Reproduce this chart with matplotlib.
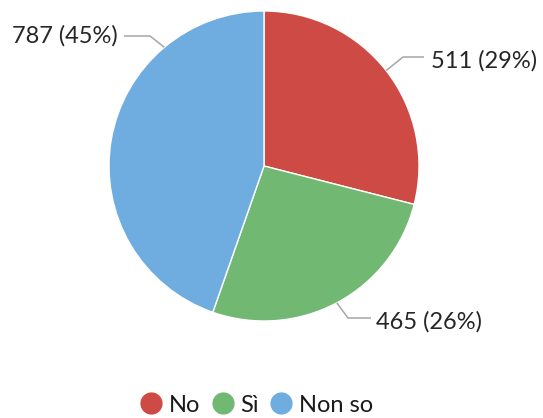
import numpy as np
import matplotlib.pyplot as plt
from matplotlib.lines import Line2D

plt.rcParams['font.family'] = ['Lato', 'DejaVu Sans']

# data
categories = ["No", "Sì", "Non so"]
counts = [511, 465, 787]
percent_labels = ["29%", "26%", "45%"]
colors = ["#CE4B45", "#71B872", "#6FADE1"]

W, H = 543, 418
fig = plt.figure(figsize=(W / 100, H / 100), dpi=100)
ax = fig.add_axes([0, 0, 1, 1])

cx, cy, r = 264, H - 166, 155
wedges, _ = ax.pie(counts, colors=colors, startangle=90, counterclock=False,
                   center=(cx, cy), radius=r, frame=True,
                   wedgeprops=dict(edgecolor="white", linewidth=1))
ax.set_xlim(0, W)
ax.set_ylim(0, H)
ax.set_aspect("equal")
ax.axis("off")

# label layout in pixel coords from top: (anchor angle on rim, elbow, line end, text pos, align)
layout = [
    (38, (403, 57), (424, 57), (431, 61), "left"),
    (-62, (348, 318), (371, 318), (376, 322), "left"),
    (130, (150, 36), (124, 36), (118, 36), "right"),
]
line_color = "#A6A6A6"
for (ang, elbow, end, tpos, ha), n, pct in zip(layout, counts, percent_labels):
    a = np.deg2rad(ang)
    px, py = cx + r * np.cos(a), cy + r * np.sin(a)
    ax.plot([px, elbow[0], end[0]], [py, H - elbow[1], H - end[1]], color=line_color,
            lw=1.1, solid_capstyle="butt")
    ax.text(tpos[0], H - tpos[1], f"{n} ({pct})", ha=ha, va="center", fontsize=17,
            color="#262626")

handles = [Line2D([], [], marker="o", linestyle="", markersize=15,
                  markerfacecolor=c, markeredgecolor=c) for c in colors]
fig.legend(handles, categories, loc="lower center", bbox_to_anchor=(0.472, -0.045),
           ncol=3, frameon=False, fontsize=17, handletextpad=0.25,
           columnspacing=0.45, handlelength=1.0, labelcolor="#1a1a1a")

fig.savefig("out.png", dpi=100)
